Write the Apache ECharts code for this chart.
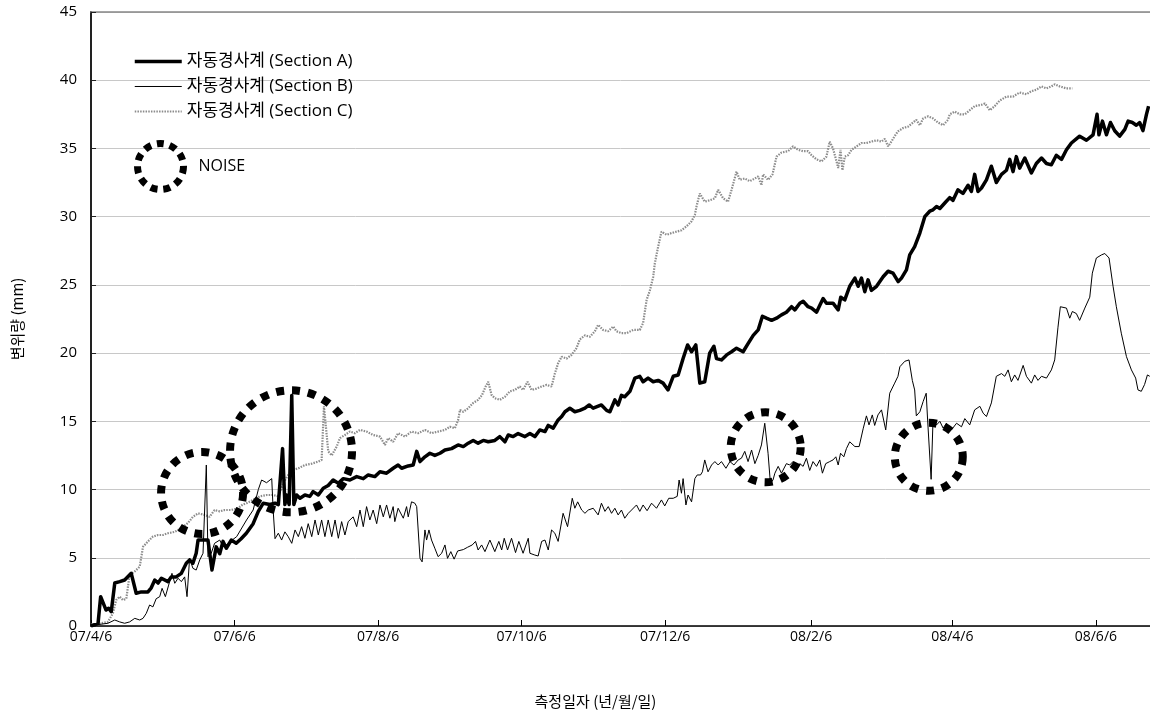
<!DOCTYPE html>
<html>
<head>
<meta charset="utf-8">
<script src="https://cdn.jsdelivr.net/npm/echarts@6/dist/echarts.min.js"></script>
<style>
  html, body { margin: 0; padding: 0; background: #fff; }
  #chart { width: 1150px; height: 711px; }
</style>
</head>
<body>
<div id="chart"></div>
<script>
// x values are days elapsed since the first reading (2007-04-06)
const START_DATE = '2007-04-06';
const tickDates = ['2007-04-06', '2007-06-06', '2007-08-06', '2007-10-06',
                   '2007-12-06', '2008-02-06', '2008-04-06', '2008-06-06'];
const tickLabels = ['07/4/6', '07/6/6', '07/8/6', '07/10/6', '07/12/6', '08/2/6', '08/4/6', '08/6/6'];
const lastDay = 450;

const seriesNames = ['자동경사계 (Section A)', '자동경사계 (Section B)', '자동경사계 (Section C)'];

// [day, displacement mm]
const sectionA = [
  [0, 0], [3.0, 0.2], [4.1, 2.15], [6.4, 1.17], [7.5, 1.3], [8.6, 1.05], [10.1, 3.15], [12.2, 3.25],
  [14.3, 3.37], [17.1, 3.86], [19.2, 2.4], [21.4, 2.5], [24.2, 2.5], [25.6, 2.8], [27.1, 3.37],
  [28.5, 3.15], [29.9, 3.5], [32.7, 3.25], [34.1, 3.6], [36.2, 3.6], [38.4, 3.86], [40.5, 4.6],
  [41.9, 4.84], [43.3, 4.6], [44.7, 5.33], [45.5, 6.3], [47.6, 6.3], [49.7, 6.3], [51.4, 4.1],
  [53.2, 5.8], [54.7, 5.3], [56.1, 6.2], [57.5, 5.7], [59.6, 6.3], [61.7, 6.06], [63.8, 6.4],
  [66.0, 6.8], [68.9, 7.5], [71.1, 8.4], [73.2, 9.0], [76.0, 8.9], [78.2, 9.0], [79.6, 8.9],
  [81.4, 13.0], [82.4, 8.9], [83.1, 9.6], [84.2, 8.9], [85.3, 16.9], [86.2, 8.9], [87.4, 9.6],
  [88.8, 9.36], [90.9, 9.6], [93.0, 9.5], [94.4, 9.85], [96.6, 9.6], [98.7, 10.1], [100.8, 10.3],
  [102.9, 10.7], [105.1, 10.46], [107.2, 10.8], [110.0, 10.7], [112.9, 10.95], [115.7, 10.8],
  [117.8, 11.07], [120.6, 10.95], [122.8, 11.3], [125.6, 11.2], [128.4, 11.56], [130.5, 11.8],
  [132.0, 11.56], [134.8, 11.73], [136.9, 11.8], [138.4, 12.8], [139.8, 12.05], [141.9, 12.4],
  [144.0, 12.66], [146.1, 12.5], [148.3, 12.66], [150.4, 12.9], [153.2, 13.0], [156.0, 13.27],
  [158.2, 13.15], [160.3, 13.4], [162.4, 13.6], [164.5, 13.4], [166.7, 13.6], [168.8, 13.5],
  [171.6, 13.6], [173.7, 13.88], [175.9, 13.5], [177.3, 14.0], [179.4, 13.88], [181.5, 14.1],
  [184.4, 13.88], [186.5, 14.1], [188.6, 13.88], [190.7, 14.37], [192.9, 14.25], [194.3, 14.7],
  [196.4, 14.5], [198.5, 15.1], [200.0, 15.35], [201.4, 15.7], [203.5, 15.96], [205.6, 15.7],
  [207.7, 15.8], [209.9, 15.96], [211.7, 16.2], [213.4, 15.96], [216.9, 16.2], [219.1, 15.8],
  [220.5, 15.7], [222.6, 16.57], [224.0, 16.2], [225.4, 16.9], [226.8, 16.8], [229.0, 17.2],
  [231.1, 18.17], [233.2, 18.3], [234.6, 17.9], [236.7, 18.17], [238.9, 17.9], [241.0, 18.0],
  [243.1, 17.8], [245.2, 17.3], [247.4, 18.3], [249.5, 18.4], [251.6, 19.6], [253.5, 20.6],
  [255.2, 20.1], [257.0, 20.6], [258.7, 17.8], [260.8, 17.9], [262.9, 20.0], [264.7, 20.5],
  [265.8, 19.6], [267.9, 19.5], [270.1, 19.87], [272.2, 20.1], [274.3, 20.36], [277.1, 20.1],
  [279.2, 20.7], [281.4, 21.3], [283.5, 21.7], [285.3, 22.7], [287.0, 22.56], [289.2, 22.4],
  [291.3, 22.56], [293.4, 22.8], [295.5, 23.0], [297.7, 23.4], [299.1, 23.17], [301.2, 23.66],
  [302.6, 23.8], [304.7, 23.4], [306.2, 23.3], [308.3, 23.0], [309.7, 23.5], [311.1, 24.0],
  [312.5, 23.66], [315.3, 23.66], [317.5, 23.17], [318.6, 24.1], [320.3, 23.9], [322.4, 24.9],
  [324.6, 25.5], [326.0, 24.9], [327.4, 25.5], [328.8, 24.5], [330.2, 25.37], [331.6, 24.6],
  [333.8, 24.9], [336.6, 25.6], [338.7, 26.0], [340.8, 25.86], [343.0, 25.24], [344.4, 25.5],
  [346.5, 26.1], [347.9, 27.2], [350.0, 27.8], [352.2, 28.8], [354.3, 30.0], [356.4, 30.4],
  [357.8, 30.5], [359.3, 30.75], [360.7, 30.6], [362.8, 31.0], [364.9, 31.4], [366.3, 31.2],
  [368.4, 31.97], [370.5, 31.7], [372.7, 32.3], [374.1, 31.85], [375.5, 33.1], [376.9, 31.85],
  [378.4, 32.1], [380.5, 32.7], [382.6, 33.7], [384.7, 32.5], [386.9, 33.1], [389.0, 33.4],
  [390.4, 34.2], [391.8, 33.3], [393.2, 34.4], [394.6, 33.56], [396.8, 34.3], [399.6, 33.2],
  [401.7, 33.9], [403.9, 34.3], [406.0, 33.9], [408.1, 33.8], [410.2, 34.5], [412.4, 34.2],
  [414.5, 34.9], [416.6, 35.4], [418.7, 35.7], [420.1, 35.9], [423.0, 35.6], [425.8, 36.0],
  [427.5, 37.5], [428.3, 36.0], [429.8, 37.0], [431.5, 36.0], [433.2, 36.9], [435.0, 36.3],
  [437.1, 35.9], [439.3, 36.4], [440.7, 37.0], [442.5, 36.9], [444.2, 36.7], [445.6, 36.9],
  [447.0, 36.3], [448.5, 37.5], [449.4, 38.1]
];

const sectionB = [
  [0, 0], [1.6, 0.07], [7.2, 0.2], [10.1, 0.44], [12.2, 0.3], [14.3, 0.2], [16.4, 0.3], [18.6, 0.56],
  [20.7, 0.44], [22.1, 0.56], [23.5, 0.93], [24.9, 1.54], [26.3, 1.4], [27.7, 2.0], [29.2, 2.15],
  [30.2, 2.76], [31.6, 2.15], [33.0, 3.0], [34.4, 3.86], [35.6, 3.13], [37.0, 3.5], [38.4, 3.25],
  [39.8, 3.6], [40.8, 2.15], [41.9, 4.96], [43.3, 4.23], [44.7, 4.1], [46.2, 4.84], [47.6, 5.33],
  [49.0, 11.8], [49.7, 5.08], [51.1, 5.33], [52.5, 6.06], [54.7, 6.3], [56.1, 5.8], [58.0, 6.0],
  [60.0, 6.3], [61.9, 6.55], [66.1, 7.77], [68.9, 8.5], [71.1, 10.0], [72.5, 10.7], [74.6, 10.5],
  [76.8, 10.8], [77.4, 8.5], [78.2, 6.4], [79.6, 6.8], [81.0, 6.3], [82.4, 6.9], [83.8, 6.55],
  [85.3, 6.06], [86.7, 7.04], [88.1, 6.55], [89.5, 7.28], [90.9, 6.43], [92.3, 7.5], [93.8, 6.55],
  [95.2, 7.77], [96.6, 6.67], [98.0, 7.77], [99.4, 6.55], [100.8, 7.77], [102.3, 6.55], [103.7, 7.77],
  [105.1, 6.43], [106.5, 7.65], [107.9, 6.67], [109.3, 7.65], [111.4, 8.0], [112.9, 7.28], [114.3, 8.5],
  [115.7, 7.28], [117.1, 8.75], [118.5, 7.77], [119.9, 8.5], [121.4, 7.5], [122.8, 8.87], [124.2, 8.0],
  [125.6, 8.87], [127.0, 7.9], [128.4, 8.75], [129.1, 7.65], [130.5, 8.63], [131.3, 8.75], [132.7, 7.9],
  [134.1, 8.75], [134.8, 8.0], [136.2, 9.1], [137.6, 9.0], [138.4, 8.75], [139.8, 4.96], [140.7, 4.7],
  [141.9, 7.04], [142.6, 6.3], [143.6, 7.04], [144.7, 6.3], [146.1, 5.7], [147.5, 5.08], [149.0, 5.33],
  [150.4, 5.94], [151.5, 4.96], [152.9, 5.45], [154.3, 4.9], [155.8, 5.5], [158.2, 5.6], [160.0, 5.77],
  [162.0, 5.94], [163.4, 6.2], [164.5, 5.57], [166.0, 5.94], [167.4, 5.45], [169.5, 6.3], [171.6, 5.45],
  [173.3, 6.2], [174.5, 5.57], [175.6, 6.43], [177.0, 5.57], [178.7, 6.43], [180.4, 5.38], [181.8, 6.2],
  [183.6, 5.33], [185.8, 6.43], [186.5, 5.33], [188.6, 5.2], [190.0, 5.13], [191.5, 6.2], [192.9, 6.3],
  [194.3, 5.57], [195.7, 7.04], [197.1, 6.8], [198.5, 6.2], [200.6, 8.26], [202.5, 7.28], [204.5, 9.36],
  [205.6, 8.63], [206.8, 9.1], [208.5, 8.5], [209.9, 8.26], [211.3, 8.5], [213.4, 8.63], [215.5, 8.14],
  [216.9, 9.0], [218.4, 8.4], [219.8, 8.75], [221.2, 8.26], [222.6, 8.63], [224.0, 8.14], [225.4, 8.5],
  [226.8, 7.9], [228.3, 8.26], [229.7, 8.5], [231.8, 8.87], [233.2, 8.4], [234.6, 8.87], [236.3, 8.45],
  [238.2, 9.0], [240.3, 8.63], [242.4, 9.24], [243.8, 8.8], [245.5, 9.36], [247.4, 9.36], [249.1, 9.5],
  [249.9, 10.7], [250.9, 9.73], [251.6, 10.8], [252.8, 8.87], [253.7, 9.6], [255.2, 9.1], [256.6, 10.8],
  [257.6, 11.07], [259.0, 11.07], [259.8, 11.3], [260.8, 12.17], [262.2, 11.3], [263.7, 11.8],
  [265.1, 12.05], [266.5, 11.8], [267.9, 12.05], [269.8, 11.56], [271.5, 12.05], [273.2, 11.8],
  [275.0, 12.17], [276.4, 12.3], [277.8, 12.8], [279.2, 12.05], [280.7, 12.9], [282.1, 11.9],
  [283.5, 12.5], [284.9, 13.27], [286.3, 14.86], [287.7, 12.66], [288.7, 10.46], [289.8, 10.7],
  [290.6, 11.2], [292.0, 11.7], [293.4, 11.2], [295.5, 11.9], [296.9, 11.8], [298.3, 12.05],
  [299.8, 11.4], [301.2, 11.9], [302.6, 11.7], [304.0, 12.3], [305.4, 11.4], [306.8, 12.05],
  [308.3, 11.7], [309.7, 12.17], [310.8, 11.2], [312.2, 11.9], [313.9, 12.05], [315.3, 12.17],
  [316.5, 12.4], [317.5, 11.8], [318.5, 12.66], [319.9, 12.4], [321.0, 13.0], [322.4, 13.5],
  [324.6, 13.15], [326.4, 13.15], [328.1, 14.45], [329.5, 15.4], [330.6, 14.74], [332.0, 15.47],
  [333.0, 14.7], [334.4, 15.47], [335.9, 15.84], [337.7, 14.37], [339.4, 17.06], [341.5, 17.8],
  [342.9, 18.3], [343.7, 19.0], [345.8, 19.4], [347.6, 19.5], [349.0, 18.0], [350.0, 17.3],
  [350.7, 15.4], [352.2, 15.7], [353.6, 16.45], [354.9, 17.06], [355.5, 15.1], [357.0, 10.75],
  [357.8, 15.1], [359.3, 14.74], [360.7, 15.0], [362.1, 14.5], [363.5, 14.86], [365.6, 14.37],
  [367.8, 14.86], [369.9, 14.6], [371.3, 15.2], [373.4, 14.74], [375.5, 15.84], [377.7, 16.1],
  [379.1, 15.6], [380.5, 15.35], [382.6, 16.35], [384.7, 18.3], [386.9, 18.5], [388.3, 18.3],
  [389.7, 18.77], [391.1, 17.9], [392.5, 18.4], [393.9, 18.0], [396.1, 19.1], [397.5, 18.3],
  [399.6, 17.8], [401.0, 18.4], [402.4, 18.0], [403.9, 18.3], [406.0, 18.17], [408.1, 18.77],
  [409.5, 19.5], [410.9, 21.9], [411.9, 23.4], [414.5, 23.3], [415.9, 22.56], [417.0, 23.05],
  [418.7, 22.9], [420.1, 22.4], [422.3, 23.3], [424.4, 24.1], [425.5, 25.86], [427.2, 26.97],
  [429.4, 27.2], [430.8, 27.3], [432.6, 26.97], [434.3, 24.9], [435.7, 23.4], [437.8, 21.46],
  [440.0, 19.74], [442.1, 18.77], [443.9, 18.17], [444.9, 17.3], [446.3, 17.2], [447.7, 17.7],
  [448.9, 18.4], [449.9, 18.3]
];

const sectionC = [
  [0, 0.1], [4.4, 0.2], [7.2, 0.3], [9.3, 0.93], [10.7, 1.9], [12.2, 2.15], [13.6, 1.9], [15.0, 2.0],
  [16.4, 3.74], [18.6, 4.0], [20.7, 4.35], [22.1, 5.8], [24.2, 6.2], [26.3, 6.55], [28.5, 6.67],
  [30.6, 6.67], [32.7, 6.8], [35.6, 6.9], [38.4, 7.17], [41.2, 7.55], [43.3, 8.0], [45.5, 8.26],
  [48.3, 8.14], [50.4, 8.0], [52.5, 8.5], [54.7, 8.4], [56.8, 8.5], [59.6, 8.5], [62.4, 8.63],
  [64.5, 8.9], [66.1, 9.0], [68.9, 9.24], [71.8, 9.5], [74.6, 9.6], [77.4, 9.6], [79.6, 9.5],
  [81.7, 10.46], [83.8, 11.07], [85.9, 11.44], [88.1, 11.56], [90.9, 11.8], [93.8, 11.9], [96.6, 12.05],
  [98.0, 12.17], [99.0, 16.1], [99.8, 15.96], [100.8, 12.8], [102.3, 12.5], [104.4, 13.15],
  [105.8, 13.77], [107.9, 14.0], [110.0, 14.25], [112.1, 14.13], [114.3, 14.37], [117.1, 14.25],
  [119.9, 14.0], [122.8, 13.88], [124.9, 13.27], [126.3, 13.77], [128.4, 13.5], [130.5, 14.13],
  [133.4, 13.88], [136.2, 14.25], [139.0, 14.13], [141.9, 14.37], [144.7, 14.13], [147.5, 14.25],
  [150.4, 14.37], [152.5, 14.6], [154.6, 14.5], [156.0, 15.1], [156.8, 15.84], [158.2, 15.7],
  [160.3, 15.96], [162.4, 16.35], [164.5, 16.57], [166.2, 16.94], [167.7, 17.55], [168.8, 17.9],
  [170.2, 16.94], [171.6, 16.7], [173.7, 16.57], [175.9, 16.8], [178.0, 17.2], [180.1, 17.3],
  [182.2, 17.55], [183.6, 17.3], [185.5, 17.9], [187.2, 17.3], [189.3, 17.4], [191.5, 17.55],
  [193.6, 17.67], [195.7, 17.55], [197.1, 18.5], [198.5, 19.26], [200.0, 19.74], [202.1, 19.6],
  [204.2, 19.87], [206.3, 20.36], [207.7, 21.0], [209.9, 21.3], [212.0, 21.2], [214.1, 21.6],
  [215.5, 22.07], [217.6, 21.7], [219.8, 21.6], [221.9, 21.95], [223.3, 21.6], [225.4, 21.46],
  [227.6, 21.46], [230.4, 21.7], [233.2, 21.7], [234.6, 22.2], [236.1, 23.9], [237.5, 24.6],
  [238.9, 25.6], [239.6, 26.6], [241.0, 27.8], [242.4, 28.9], [244.6, 28.67], [246.7, 28.8],
  [248.8, 28.9], [250.9, 29.0], [253.1, 29.3], [255.2, 29.66], [256.6, 30.13], [257.3, 30.75],
  [258.7, 31.7], [260.8, 31.1], [262.9, 31.2], [265.1, 31.35], [266.5, 31.97], [268.6, 31.35],
  [270.7, 31.1], [272.2, 31.97], [274.3, 33.3], [275.7, 32.7], [277.8, 32.8], [279.9, 32.6],
  [282.1, 32.8], [283.5, 32.95], [284.9, 32.3], [285.6, 33.1], [287.7, 32.7], [289.6, 33.1],
  [291.3, 34.4], [293.4, 34.7], [296.2, 34.8], [298.3, 35.15], [300.5, 34.9], [302.6, 34.8],
  [304.7, 34.8], [306.2, 34.5], [308.3, 34.2], [310.4, 34.05], [312.5, 34.4], [313.9, 35.5],
  [315.3, 35.0], [316.8, 34.05], [317.5, 33.56], [318.5, 34.9], [319.3, 33.4], [320.3, 34.4],
  [321.7, 34.5], [323.2, 34.9], [325.3, 35.15], [327.4, 35.4], [329.5, 35.4], [331.6, 35.5],
  [333.8, 35.6], [335.9, 35.5], [337.3, 35.7], [338.7, 35.15], [340.1, 35.5], [341.5, 35.9],
  [342.9, 36.25], [345.1, 36.5], [347.2, 36.6], [349.3, 36.9], [350.7, 37.1], [352.2, 36.7],
  [353.6, 37.2], [355.7, 37.35], [357.8, 37.2], [359.9, 36.9], [362.1, 36.7], [364.2, 37.1],
  [364.9, 37.5], [367.0, 37.7], [369.2, 37.5], [371.3, 37.5], [373.4, 37.8], [375.5, 38.1],
  [378.4, 38.2], [379.8, 38.3], [381.9, 37.8], [384.0, 38.1], [386.1, 38.5], [389.0, 38.8],
  [391.8, 38.8], [394.6, 39.1], [397.5, 38.97], [399.6, 39.2], [401.7, 39.3], [403.9, 39.55],
  [406.0, 39.4], [408.1, 39.55], [409.5, 39.7], [411.6, 39.55], [414.5, 39.4], [417.0, 39.4]
];

// readings flagged as sensor noise: [day, mm] at the centre of each ring
const noiseSpots = [[47.2, 9.75], [85.0, 12.8], [286.7, 13.1], [356.0, 12.4]];
const noiseRingSizes = [82, 122, 70, 68];

const DAY_MS = 86400000;
const startMs = Date.parse(START_DATE + 'T00:00:00Z');
const tickDays = tickDates.map(d => Math.round((Date.parse(d + 'T00:00:00Z') - startMs) / DAY_MS));

const latinFont = "'Open Sans', 'Noto Sans CJK KR', sans-serif";
const koreanFont = "'Noto Sans CJK KR', sans-serif";

const lineStyles = {
  a: { color: '#000', width: 3.5 },
  b: { color: '#000', width: 1 },
  c: { color: '#8c8c8c', width: 2.2, type: [1.5, 1.2] }
};

const ringStyle = {
  color: 'rgba(0,0,0,0)',
  borderColor: '#000',
  borderWidth: 8,
  borderType: [8, 8],
  opacity: 1
};

// legend keys show only the line stroke, no marker on top of it
const hiddenSymbol = { color: 'rgba(0,0,0,0)', borderColor: 'rgba(0,0,0,0)', borderWidth: 0, opacity: 0 };

const chart = echarts.init(document.getElementById('chart'), null, { renderer: 'canvas' });

chart.setOption({
  animation: false,
  backgroundColor: '#fff',
  grid: { left: 91, right: 0, top: 12, bottom: 85, containLabel: false, outerBoundsMode: 'none' },
  legend: [
    {
      orient: 'vertical',
      left: 133,
      top: 53,
      padding: 0,
      itemWidth: 47,
      itemHeight: 14,
      itemGap: 8,
      selectedMode: false,
      textStyle: { fontSize: 17, color: '#000', fontFamily: latinFont },
      data: [
        { name: seriesNames[0], lineStyle: lineStyles.a, itemStyle: hiddenSymbol },
        { name: seriesNames[1], lineStyle: lineStyles.b, itemStyle: hiddenSymbol },
        { name: seriesNames[2], lineStyle: lineStyles.c, itemStyle: hiddenSymbol }
      ]
    },
    {
      orient: 'vertical',
      left: 134,
      top: 140,
      padding: 0,
      itemWidth: 46,
      itemHeight: 46,
      selectedMode: false,
      textStyle: { fontSize: 16, color: '#000', fontFamily: latinFont, padding: [0, 0, 0, 10] },
      data: [{ name: 'NOISE', icon: 'circle', itemStyle: Object.assign({}, ringStyle, { borderWidth: 7, borderType: [7, 6] }) }]
    }
  ],
  xAxis: [
    {
      type: 'value',
      min: 0,
      max: lastDay,
      name: '측정일자 (년/월/일)',
      nameLocation: 'middle',
      nameGap: 68,
      nameTextStyle: { fontSize: 15, color: '#000', fontFamily: koreanFont, padding: [0, 50, 0, 0] },
      axisLine: { show: true, lineStyle: { color: '#000', width: 1.5 } },
      axisTick: { show: true, inside: true, length: 6, customValues: tickDays, lineStyle: { color: '#000' } },
      axisLabel: {
        customValues: tickDays,
        margin: 4,
        fontSize: 14,
        color: '#000',
        fontFamily: latinFont,
        formatter: v => tickLabels[tickDays.indexOf(Math.round(v))] || ''
      },
      splitLine: { show: false }
    },
    {
      type: 'value',
      min: 0,
      max: lastDay,
      position: 'top',
      axisLine: { show: true, lineStyle: { color: '#888', width: 1.5 } },
      axisTick: { show: false },
      axisLabel: { show: false },
      splitLine: { show: false }
    }
  ],
  yAxis: {
    type: 'value',
    min: 0,
    max: 45,
    interval: 5,
    name: '변위량 (mm)',
    nameLocation: 'middle',
    nameGap: 66,
    nameTextStyle: { fontSize: 15, color: '#000', fontFamily: koreanFont },
    axisLine: { show: true, lineStyle: { color: '#222', width: 2 } },
    axisTick: { show: true, inside: true, length: 5, lineStyle: { color: '#222' } },
    axisLabel: { margin: 14, fontSize: 15, color: '#000', fontFamily: latinFont },
    splitLine: { show: true, lineStyle: { color: '#c8c8c8', width: 1 } }
  },
  series: [
    {
      name: seriesNames[2],
      type: 'line',
      data: sectionC,
      symbol: 'none',
      color: '#8c8c8c',
      z: 2,
      lineStyle: lineStyles.c,
      silent: true
    },
    {
      name: seriesNames[1],
      type: 'line',
      data: sectionB,
      symbol: 'none',
      color: '#000',
      z: 3,
      lineStyle: lineStyles.b,
      silent: true
    },
    {
      name: seriesNames[0],
      type: 'line',
      data: sectionA,
      symbol: 'none',
      color: '#000',
      z: 4,
      lineStyle: Object.assign({ join: 'round' }, lineStyles.a),
      silent: true
    },
    {
      name: 'NOISE',
      type: 'scatter',
      data: noiseSpots.map((p, i) => ({ value: p, symbolSize: noiseRingSizes[i] })),
      symbol: 'circle',
      z: 5,
      silent: true,
      itemStyle: ringStyle
    }
  ]
});
</script>
</body>
</html>
